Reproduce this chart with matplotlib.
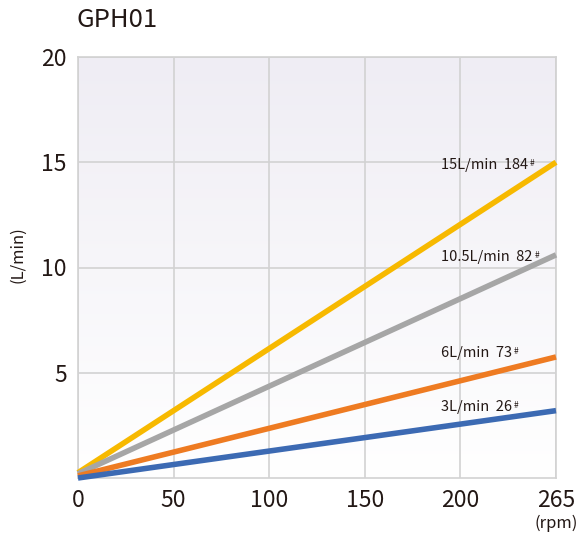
import matplotlib
matplotlib.use("Agg")
import matplotlib.pyplot as plt
import numpy as np

plt.rcParams['font.family'] = ['Noto Sans CJK JP', 'DejaVu Sans']

x_labels = ["0", "50", "100", "150", "200", "265"]
series_names = ["15L/min  184", "10.5L/min  82", "6L/min  73", "3L/min  26"]
start_vals = [0.25, 0.2, 0.1, 0.0]
end_vals = [15.0, 10.6, 5.75, 3.2]
colors = ["#f7b900", "#a6a6a6", "#ee7b22", "#3c6ab3"]
label_y = [14.85, 10.5, 5.94, 3.37]

fig = plt.figure(figsize=(5.81, 5.40), dpi=100)
ax = fig.add_axes([78/581, 1-478/540, (556-78)/581, (478-57)/540])

xmax = len(x_labels) - 1
# gradient background
grad = np.linspace(0, 1, 256).reshape(-1, 1)
top = np.array([0xef, 0xed, 0xf4]) / 255
bot = np.array([1.0, 1.0, 1.0])
img = bot * (1 - grad[..., None]) + top * grad[..., None]
img = img.reshape(256, 1, 3)
ax.imshow(img, extent=[0, xmax, 0, 20], origin='lower', aspect='auto', zorder=0)

ax.set_xlim(0, xmax)
ax.set_ylim(0, 20)
ax.set_xticks(range(len(x_labels)))
ax.set_xticklabels(x_labels)
ax.set_yticks([5, 10, 15, 20])
ax.grid(True, color="#d2d2d2", linewidth=1.2, zorder=1)
for s in ax.spines.values():
    s.set_color("#d2d2d2")
    s.set_linewidth(1.2)
ax.tick_params(length=0, labelsize=16.5, colors="#231815", pad=8)

for name, s, e, c, ly in zip(series_names, start_vals, end_vals, colors, label_y):
    ax.plot([0, xmax], [s, e], color=c, linewidth=4, solid_capstyle='butt', zorder=3, clip_on=False)
    ax.text(3.795, ly, name, fontsize=10.5, color="#231815", ha='left', va='center', zorder=4)

fig.canvas.draw()
r = fig.canvas.get_renderer()
for t in list(ax.texts):
    bb = t.get_window_extent(r)
    xd, yd = ax.transData.inverted().transform((bb.x1 + 2, bb.y1 - 1))
    ax.text(xd, yd, "#", fontsize=6, color="#231815", ha='left', va='top')

fig.text(77/581, 1-20/540, "GPH01", fontsize=18.5, color="#231815", ha='left', va='center')
fig.text(18/581, 1-255/540, "(L/min)", fontsize=12, color="#231815", rotation=90, ha='center', va='center')
fig.text(556/581, 1-523/540, "(rpm)", fontsize=12, color="#231815", ha='center', va='center')

fig.savefig("out.png", dpi=100)
